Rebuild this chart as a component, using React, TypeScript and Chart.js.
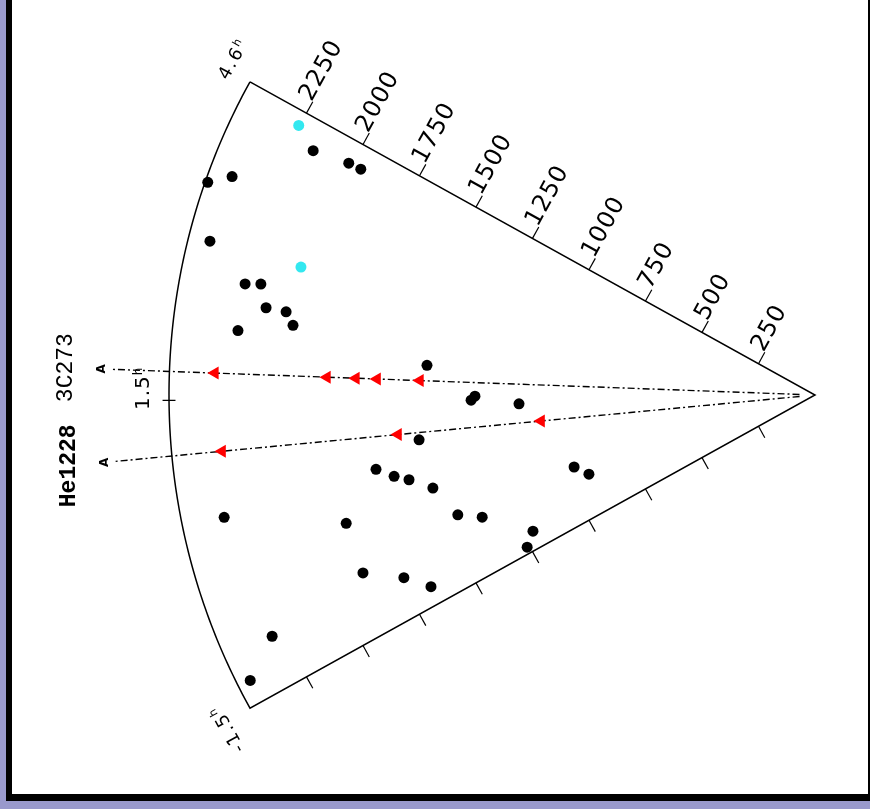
import { useEffect, useRef } from "react";
import { Chart, registerables } from "chart.js";
Chart.register(...registerables);

// ---- data ----
const distanceTicks = [250, 500, 750, 1000, 1250, 1500, 1750, 2000, 2250];
const maxDistance = 2500;
const hourTop = 4.6;
const hourBottom = -1.5;
const hourMid = 1.5;
const hourLabels = ["4.6", "1.5", "-1.5"];
const hourUnit = "h";

const galaxyDist = [2160, 2015, 1963, 2490, 2409, 2416, 2247, 2187, 2151, 2072, 2038, 2247, 1506, 1331, 1316, 1146, 1542, 1723, 1659, 1605, 1522, 973, 927, 2335, 1881, 1458, 1372, 1212, 1260, 1880, 1741, 1661, 2299, 2449];
const galaxyHour = [4.28, 4.33, 4.33, 3.58, 3.71, 3.05, 2.71, 2.74, 2.50, 2.49, 2.35, 2.22, 2.01, 1.46, 1.53, 1.37, 0.87, 0.54, 0.40, 0.31, 0.11, -0.20, -0.48, 0.32, -0.06, -0.40, -0.57, -1.16, -1.38, -0.71, -0.97, -1.24, -0.97, -1.27];

const cyanDist = [2254, 2050];
const cyanHour = [4.45, 3.02];

const sightlineNames = ["3C273", "He1228"];
const sightlineHour = [1.77, 0.98];
const absorbers3C273 = [2324, 1890, 1778, 1696, 1530];
const absorbersHe1228 = [2305, 1621, 1065];

// ---- geometry helpers ----
const HALF_ANGLE = 29;
const hourCenter = (hourTop + hourBottom) / 2;
const hourHalf = (hourTop - hourBottom) / 2;
function theta(h: number) {
  return ((h - hourCenter) / hourHalf) * HALF_ANGLE * (Math.PI / 180);
}
function toXY(d: number, h: number) {
  const t = theta(h);
  return { x: -d * Math.cos(t), y: d * Math.sin(t) };
}

const W = 870;
const H = 809;
const APEX_X = 815;
const APEX_Y = 395;
const PX_PER_UNIT = 646 / maxDistance;

export default function App() {
  const ref = useRef<HTMLCanvasElement>(null);
  useEffect(() => {
    document.body.style.margin = "0";
    const canvas = ref.current!;
    const sx = (c: Chart, v: number) => c.scales.x.getPixelForValue(v);
    const sy = (c: Chart, v: number) => c.scales.y.getPixelForValue(v);
    const pix = (c: Chart, d: number, h: number) => {
      const p = toXY(d, h);
      return { x: sx(c, p.x), y: sy(c, p.y) };
    };

    const drawText = (
      ctx: CanvasRenderingContext2D,
      text: string,
      x: number,
      y: number,
      angle: number,
      font: string,
      align: CanvasTextAlign,
      baseline: CanvasTextBaseline,
      spacing: number
    ) => {
      ctx.save();
      ctx.translate(x, y);
      ctx.rotate(angle);
      ctx.font = font;
      ctx.textAlign = align;
      ctx.textBaseline = baseline;
      (ctx as any).letterSpacing = spacing + "px";
      ctx.fillStyle = "#000";
      ctx.fillText(text, 0, 0);
      ctx.restore();
    };

    const drawHour = (
      ctx: CanvasRenderingContext2D,
      text: string,
      x: number,
      y: number,
      angle: number,
      size: number,
      spacing: number,
      centered: boolean
    ) => {
      ctx.save();
      ctx.translate(x, y);
      ctx.rotate(angle);
      ctx.fillStyle = "#000";
      ctx.textAlign = "left";
      ctx.textBaseline = "alphabetic";
      (ctx as any).letterSpacing = spacing + "px";
      ctx.font = `${size}px 'DejaVu Sans'`;
      const w = ctx.measureText(text).width;
      const supSize = Math.round(size * 0.62);
      ctx.font = `${supSize}px 'DejaVu Sans'`;
      const ws = ctx.measureText(hourUnit).width;
      const total = w + ws;
      const x0 = centered ? -total / 2 : 0;
      const y0 = centered ? size * 0.36 : 0;
      ctx.font = `${size}px 'DejaVu Sans'`;
      ctx.fillText(text, x0, y0);
      ctx.font = `${supSize}px 'DejaVu Sans'`;
      ctx.fillText(hourUnit, x0 + w, y0 - size * 0.38);
      ctx.restore();
    };

    const framePlugin = {
      id: "frame",
      beforeDraw(c: Chart) {
        const ctx = c.ctx;
        ctx.save();
        ctx.fillStyle = "#9999cc";
        ctx.fillRect(0, 0, W, H);
        ctx.fillStyle = "#000";
        ctx.fillRect(6, 0, W - 6, 801);
        ctx.fillStyle = "#fff";
        ctx.fillRect(12, 0, W - 14, 794);
        ctx.restore();
      },
      beforeDatasetsDraw(c: Chart) {
        const ctx = c.ctx;
        ctx.save();
        ctx.strokeStyle = "#000";
        ctx.lineWidth = 1.5;
        const apex = pix(c, 0, hourMid);
        ctx.beginPath();
        const topC = pix(c, maxDistance, hourTop);
        ctx.moveTo(topC.x, topC.y);
        ctx.lineTo(apex.x, apex.y);
        const botC = pix(c, maxDistance, hourBottom);
        ctx.lineTo(botC.x, botC.y);
        const N = 120;
        for (let i = 0; i <= N; i++) {
          const h = hourBottom + ((hourTop - hourBottom) * i) / N;
          const p = pix(c, maxDistance, h);
          ctx.lineTo(p.x, p.y);
        }
        ctx.stroke();

        ctx.lineWidth = 1.2;
        const edges = [
          { h: hourTop, inward: 1 },
          { h: hourBottom, inward: -1 },
        ];
        for (const e of edges) {
          const far = pix(c, maxDistance, e.h);
          let ex = far.x - apex.x;
          let ey = far.y - apex.y;
          const len = Math.hypot(ex, ey);
          ex /= len;
          ey /= len;
          const nx = -ey * e.inward;
          const ny = ex * e.inward;
          for (const d of distanceTicks) {
            const p = pix(c, d, e.h);
            ctx.beginPath();
            ctx.moveTo(p.x, p.y);
            ctx.lineTo(p.x + nx * 13, p.y + ny * 13);
            ctx.stroke();
          }
        }
        const m = pix(c, maxDistance, hourMid);
        const mi = pix(c, maxDistance - 25, hourMid);
        const mo = pix(c, maxDistance + 25, hourMid);
        ctx.beginPath();
        ctx.moveTo(mi.x, mi.y);
        ctx.lineTo(mo.x, mo.y);
        ctx.stroke();

        {
          const far = pix(c, maxDistance, hourTop);
          let ex = far.x - apex.x;
          let ey = far.y - apex.y;
          const len = Math.hypot(ex, ey);
          ex /= len;
          ey /= len;
          const ox = -ey, oy = ex;
          const nOx = oy < 0 ? ox : -ox;
          const nOy = oy < 0 ? oy : -oy;
          const ang = Math.atan2(nOy, nOx);
          for (const d of distanceTicks) {
            const p = pix(c, d, hourTop);
            drawText(ctx, String(d), p.x + nOx * 12 + ex * 1, p.y + nOy * 12 + ey * 1, ang,
              "24px 'DejaVu Sans'", "left", "alphabetic", 1);
          }
          const tx = far.x + ex * 20 - nOx * 10;
          const ty = far.y + ey * 20 - nOy * 10;
          drawHour(ctx, hourLabels[0], tx, ty, ang, 18, 2, false);
        }
        {
          const far = pix(c, maxDistance, hourBottom);
          let ex = far.x - apex.x;
          let ey = far.y - apex.y;
          const len = Math.hypot(ex, ey);
          ex /= len;
          ey /= len;
          let nOx = -ey, nOy = ex;
          if (nOy < 0) { nOx = -nOx; nOy = -nOy; }
          const ang = Math.atan2(-nOy, -nOx);
          const tx = far.x + ex * 24 + nOx * 33;
          const ty = far.y + ey * 24 + nOy * 33;
          drawHour(ctx, hourLabels[2], tx, ty, ang, 18, 2, false);
        }
        drawHour(ctx, hourLabels[1], m.x - 27, m.y - 12, -Math.PI / 2, 20, 1, true);

        sightlineNames.forEach((name, i) => {
          const p = pix(c, 2900, sightlineHour[i]);
          drawText(ctx, name, p.x, p.y, -Math.PI / 2,
            (i === 1 ? "bold " : "") + "23px 'Liberation Mono'", "center", "middle", 0);
          const q = pix(c, 2760, sightlineHour[i]);
          drawText(ctx, "A", q.x, q.y, -Math.PI / 2, "bold 12px 'DejaVu Sans'", "center", "middle", 0);
        });
        ctx.restore();
      },
    };

    const pts = (ds: number[], hs: number[]) => ds.map((d, i) => toXY(d, hs[i]));
    const lineDs = sightlineHour.map((h) => ({
      data: [toXY(60, h), toXY(2720, h)],
      showLine: true,
      borderColor: "#000",
      borderWidth: 1.4,
      borderDash: [7, 3, 2, 3],
      pointRadius: 0,
      order: 10,
    }));

    const chart = new Chart(canvas, {
      type: "scatter",
      data: {
        datasets: [
          ...lineDs,
          {
            data: pts(galaxyDist, galaxyHour),
            backgroundColor: "#000",
            borderWidth: 0,
            pointRadius: 5.5,
            order: 1,
          },
          {
            data: pts(cyanDist, cyanHour),
            backgroundColor: "#33e8f0",
            borderWidth: 0,
            pointRadius: 5.5,
            order: 1,
          },
          {
            data: [
              ...absorbers3C273.map((d) => toXY(d, sightlineHour[0])),
              ...absorbersHe1228.map((d) => toXY(d, sightlineHour[1])),
            ],
            backgroundColor: "#ff0000",
            borderColor: "#ff0000",
            borderWidth: 0,
            pointStyle: "triangle",
            rotation: -90,
            pointRadius: 7.5,
            order: 1,
          },
        ] as any,
      },
      options: {
        animation: false,
        responsive: false,
        events: [],
        layout: { padding: 0, autoPadding: false },
        plugins: { legend: { display: false }, tooltip: { enabled: false } },
        scales: {
          x: { type: "linear", display: false, min: -APEX_X / PX_PER_UNIT, max: (W - APEX_X) / PX_PER_UNIT },
          y: { type: "linear", display: false, min: -(H - APEX_Y) / PX_PER_UNIT, max: APEX_Y / PX_PER_UNIT },
        },
      },
      plugins: [framePlugin],
    });
    return () => chart.destroy();
  }, []);
  return (
    <div style={{ width: W, height: H }}>
      <canvas ref={ref} width={W} height={H} style={{ display: "block" }} />
    </div>
  );
}
